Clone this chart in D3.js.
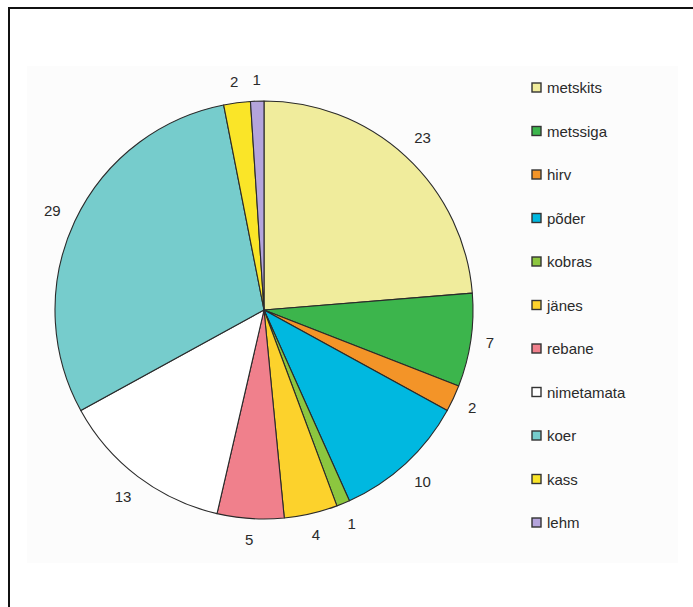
<!DOCTYPE html>
<html><head><meta charset="utf-8">
<script src="https://cdn.jsdelivr.net/npm/d3@7"></script>
<style>body{margin:0;background:#fff}svg{display:block}</style>
</head><body>
<svg id="c" width="693" height="607"></svg>
<script>
const categories = ["metskits","metssiga","hirv","põder","kobras","jänes","rebane","nimetamata","koer","kass","lehm"];
const values = [23,7,2,10,1,4,5,13,29,2,1];
const colors = ["#f0ec9c","#3cb54c","#f39428","#00b8e0","#8cc63f","#fcd22c","#f0808c","#ffffff","#76cccc","#fae528","#b4a4dc"];

const svg = d3.select("#c");
svg.append("rect").attr("x",27).attr("y",66).attr("width",651).attr("height",497).attr("fill","#fcfcfc");
svg.append("path").attr("d","M9,607 V8 H693").attr("fill","none").attr("stroke","#111").attr("stroke-width",2);

const cx = 264, cy = 310, R = 209;
const data = categories.map((c,i)=>({c, v: values[i], col: colors[i]}));
const pie = d3.pie().value(d=>d.v).sort(null);
const arcs = pie(data);
const arc = d3.arc().innerRadius(0).outerRadius(R);
const g = svg.append("g").attr("transform",`translate(${cx},${cy})`);
g.selectAll("path.s").data(arcs).join("path").attr("class","s")
  .attr("d",arc).attr("fill",d=>d.data.col).attr("stroke","#2a2a2a").attr("stroke-width",1.1).attr("stroke-linejoin","round");

// labels placed so that the nearest edge of the text box sits at a fixed gap outside the pie
const Rl = 223, charW = 8.5, halfH = 7;
g.selectAll("text").data(arcs).join("text")
  .attr("transform",d=>{
    const a = (d.startAngle + d.endAngle)/2;
    const s = Math.sin(a), c = Math.cos(a);
    const w = String(d.data.v).length * charW;
    const sup = Math.abs(s)*w/2 + Math.abs(c)*halfH;
    const r = Rl + sup;
    return `translate(${s*r},${-c*r})`;
  })
  .attr("text-anchor","middle").attr("dy","0.35em")
  .attr("font-family","Liberation Sans, Arial, sans-serif").attr("font-size",15).attr("fill","#2a2a2a")
  .text(d=>d.data.v);

const y = d3.scalePoint().domain(categories).range([88,523]);
const lg = svg.append("g");
const row = lg.selectAll("g").data(data).join("g").attr("transform",d=>`translate(532,${y(d.c)})`);
row.append("rect").attr("x",0).attr("y",-5).attr("width",9).attr("height",9)
  .attr("fill",d=>d.col).attr("stroke","#333").attr("stroke-width",1.4);
row.append("text").attr("x",15).attr("dy","0.35em")
  .attr("font-family","Liberation Sans, Arial, sans-serif").attr("font-size",15).attr("fill","#2a2a2a")
  .text(d=>d.c);
</script>
</body></html>
